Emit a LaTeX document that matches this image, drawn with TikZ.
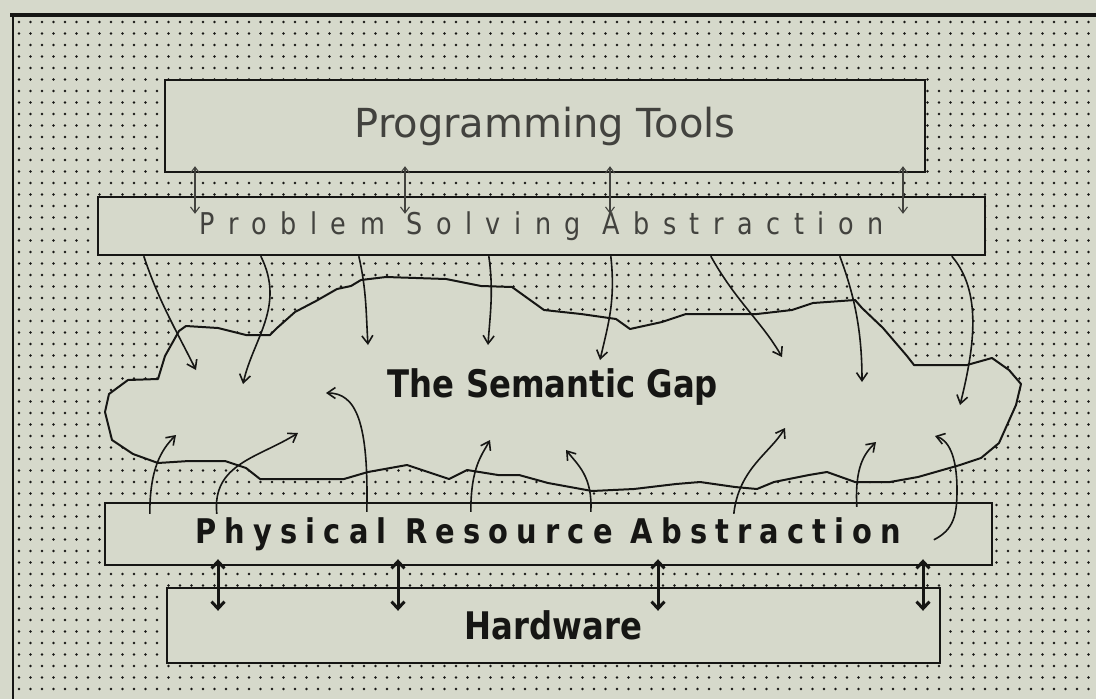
\documentclass[tikz,border=0pt]{standalone}
\usepackage{fontspec}
\usetikzlibrary{arrows.meta}

\newfontfamily\macfont[FakeStretch=0.85]{DejaVu Sans}
\newfontfamily\widefont{DejaVu Sans}
\definecolor{paper}{RGB}{214,217,203}
\definecolor{ink}{RGB}{22,22,20}
\definecolor{pale}{RGB}{66,66,62}

\begin{document}
\begin{tikzpicture}[x=1pt,y=-1pt,
  layer/.style={draw=ink, fill=paper, line width=2.4pt, inner sep=0pt},
  toollink/.style={draw=pale, line width=1.1pt, {Straight Barb[length=6pt,width=9pt]}-{Straight Barb[length=6pt,width=9pt]}, shorten <=-7pt, shorten >=-18pt},
  hwlink/.style={draw=ink, line width=3pt, {Straight Barb[length=7pt,width=13pt]}-{Straight Barb[length=7pt,width=13pt]}, shorten <=-7pt, shorten >=-24pt},
  gaplink/.style={draw=ink, line width=1.6pt, -{Straight Barb[length=8pt,width=11pt]}}]
\useasboundingbox (0,0) rectangle (1096,699);
\fill[paper] (0,0) rectangle (1096,699);
\foreach \j in {0,...,59}
  \fill[ink] foreach \i in {0,...,94} { (19+11.5*\i,22+11.5*\j) circle (1.35pt) };
\draw[ink, line width=4pt] (10,15) -- (1096,15);
\draw[ink, line width=1.6pt] (13,15) -- (13,699);

\node[layer, minimum width=760pt, minimum height=92pt, text=pale, font=\widefont\fontsize{40}{42}\selectfont] (tools) at (545,126) {Programming Tools};
\node[layer, minimum width=887pt, minimum height=58pt, text=pale, font=\macfont\fontsize{30}{32}\selectfont\addfontfeatures{LetterSpace=45}] (psa) at (541.5,226) {Problem Solving Abstraction};
\node[layer, minimum width=887pt, minimum height=62pt, text=ink, font=\macfont\bfseries\fontsize{34}{36}\selectfont\addfontfeatures{LetterSpace=24}] (pra) at (548.5,534) {Physical Resource Abstraction};
\node[layer, minimum width=773pt, minimum height=75pt, text=ink, font=\macfont\bfseries\fontsize{38}{40}\selectfont] (hw) at (553.5,625.5) {Hardware};

\foreach \x in {195,405,610,903}
  \draw[toollink] (tools.south -| \x,0) -- (psa.north -| \x,0);
\foreach \x in {218,398,658,923}
  \draw[hwlink] (pra.south -| \x,0) -- (hw.north -| \x,0);

\filldraw[fill=paper, draw=ink, line width=2pt, line join=round]
  (105,412) -- (109,394) -- (128,380) -- (158,379) -- (165,356) -- (179,331) -- (186,326)
  -- (218,328) -- (246,335) -- (270,335) -- (277,328) -- (295,312) -- (316,301) -- (337,289)
  -- (351,286) -- (361,280) -- (386,277) -- (446,279) -- (481,286) -- (512,287) -- (544,310)
  -- (581,314) -- (616,319) -- (630,329) -- (662,322) -- (686,314) -- (728,314) -- (757,314)
  -- (792,310) -- (813,303) -- (855,300) -- (862,308) -- (883,328) -- (907,356) -- (914,365)
  -- (967,365) -- (992,358) -- (1009,370) -- (1021,384) -- (1016,405) -- (999,443) -- (981,458)
  -- (960,465) -- (918,477) -- (890,482) -- (855,482) -- (827,472) -- (809,475) -- (774,482)
  -- (757,489) -- (735,487) -- (700,482) -- (676,484) -- (634,489) -- (592,491) -- (548,483)
  -- (519,475) -- (498,475) -- (467,470) -- (449,479) -- (407,465) -- (368,472) -- (344,479)
  -- (260,479) -- (246,468) -- (225,461) -- (189,461) -- (158,463) -- (133,454) -- (112,440)
  -- cycle;
\node[text=ink, font=\macfont\bfseries\fontsize{38}{40}\selectfont] (gap) at (553,387) {The Semantic Gap};

\coordinate (sink1) at (196,370);
\coordinate (sink2) at (243,384);
\coordinate (sink3) at (368,345);
\coordinate (sink4) at (488,345);
\coordinate (sink5) at (600,360);
\coordinate (sink6) at (782,357);
\coordinate (sink7) at (862,382);
\coordinate (sink8) at (960,405);
\draw[gaplink] ([xshift=47pt]psa.south west) .. controls +(15,45) and +(-20,-40) .. (sink1);
\draw[gaplink] ([xshift=164pt]psa.south west) .. controls +(25,50) and +(10,-45) .. (sink2);
\draw[gaplink] ([xshift=262pt]psa.south west) .. controls +(8,35) and +(-2,-30) .. (sink3);
\draw[gaplink] ([xshift=392pt]psa.south west) .. controls +(5,35) and +(2,-30) .. (sink4);
\draw[gaplink] ([xshift=514pt]psa.south west) .. controls +(5,45) and +(8,-35) .. (sink5);
\draw[gaplink] ([xshift=614pt]psa.south west) .. controls +(25,45) and +(-20,-35) .. (sink6);
\draw[gaplink] ([xshift=743pt]psa.south west) .. controls +(15,40) and +(0,-50) .. (sink7);
\draw[gaplink] ([xshift=855pt]psa.south west) .. controls +(30,35) and +(15,-60) .. (sink8);

\coordinate (rise1) at (176,435);
\coordinate (rise2) at (298,433);
\coordinate (rise3) at (326,393);
\coordinate (rise4) at (490,440);
\coordinate (rise5) at (566,450);
\coordinate (rise6) at (785,428);
\coordinate (rise7) at (876,442);
\coordinate (rise8) at (935,436);
\draw[gaplink] ([xshift=46pt,yshift=-12pt]pra.north west) .. controls +(0,-45) and +(-15,15) .. (rise1);
\draw[gaplink] ([xshift=113pt,yshift=-12pt]pra.north west) .. controls +(-5,-50) and +(-40,25) .. (rise2);
\draw[gaplink] ([xshift=263pt,yshift=-10pt]pra.north west) .. controls +(2,-90) and +(30,0) .. (rise3);
\draw[gaplink] ([xshift=367pt,yshift=-10pt]pra.north west) .. controls +(0,-45) and +(-8,15) .. (rise4);
\draw[gaplink] ([xshift=487pt,yshift=-10pt]pra.north west) .. controls +(2,-35) and +(12,15) .. (rise5);
\draw[gaplink] ([xshift=630pt,yshift=-12pt]pra.north west) .. controls +(5,-45) and +(-15,25) .. (rise6);
\draw[gaplink] ([xshift=753pt,yshift=-5pt]pra.north west) .. controls +(-2,-40) and +(-12,12) .. (rise7);
\draw[gaplink] ([xshift=830pt,yshift=-38pt]pra.north west) .. controls +(20,-10) and +(0,25) .. (957,490) .. controls (957,455) and (948,440) .. (rise8);
\end{tikzpicture}
\end{document}
